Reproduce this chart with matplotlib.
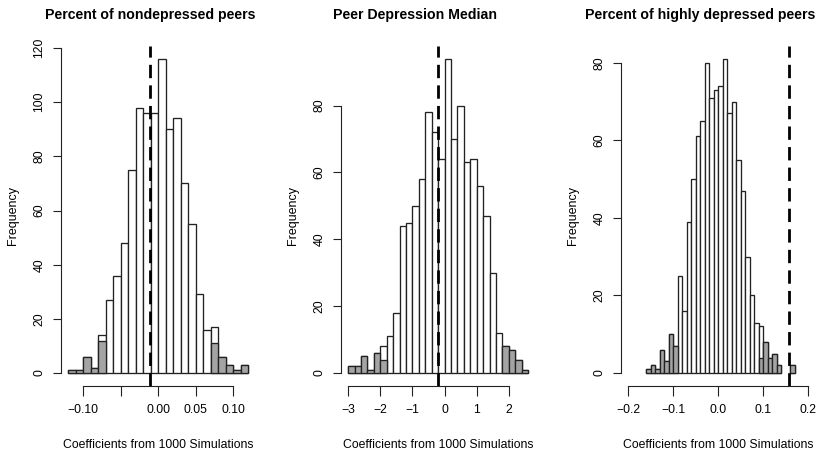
import matplotlib
matplotlib.use("Agg")
import matplotlib.pyplot as plt
from matplotlib import font_manager
import numpy as np


# DATA (histogram counts, 1000 simulations each)

TITLES = [
    "Percent of nondepressed peers",
    "Peer Depression Median",
    "Percent of highly depressed peers",
]
XLABEL = "Coefficients from 1000 Simulations"
YLABEL = "Frequency"

# percent of nondepressed peers: breaks -0.12 .. 0.12 by 0.01
nondep_start = -0.12
nondep_width = 0.01
nondep_counts = [1, 1, 6, 2, 14, 27, 36, 48, 75, 98, 96, 96,
                 116, 90, 94, 70, 55, 29, 16, 17, 6, 3, 1, 3]
nondep_tail = [1, 1, 6, 2, 12, 0, 0, 0, 0, 0, 0, 0,
               0, 0, 0, 0, 0, 0, 0, 11, 6, 3, 1, 3]
nondep_observed = -0.011
nondep_xticks = [-0.10, -0.05, 0.00, 0.05, 0.10]
nondep_xlabels = ["\u22120.10", "", "0.00", "0.05", "0.10"]
nondep_yticks = [0, 20, 40, 60, 80, 100, 120]
nondep_xrange = (-0.12, 0.12)

# peer depression median: breaks -3.0 .. 2.6 by 0.2
median_start = -3.0
median_width = 0.2
median_counts = [2, 2, 5, 1, 6, 8, 11, 18, 44, 45, 50, 58, 78, 72,
                 64, 94, 70, 80, 63, 64, 56, 47, 30, 12, 8, 7, 4, 1]
median_tail = [2, 2, 5, 1, 6, 4, 0, 0, 0, 0, 0, 0, 0, 0,
               0, 0, 0, 0, 0, 0, 0, 0, 0, 0, 8, 7, 4, 1]
median_observed = -0.21
median_xticks = [-3, -2, -1, 0, 1, 2]
median_xlabels = ["\u22123", "\u22122", "\u22121", "0", "1", "2"]
median_yticks = [0, 20, 40, 60, 80]
median_xrange = (-3.0, 2.6)

# percent of highly depressed peers: breaks -0.16 .. 0.17 by 0.01
highdep_start = -0.16
highdep_width = 0.01
highdep_counts = [1, 2, 1, 6, 3, 10, 7, 25, 16, 39, 50, 61, 65, 80, 71, 73, 74,
                  81, 67, 70, 55, 47, 30, 20, 13, 12, 8, 4, 5, 2, 0, 0, 2]
highdep_tail = [1, 2, 1, 6, 3, 10, 7, 0, 0, 0, 0, 0, 0, 0, 0, 0, 0,
                0, 0, 0, 0, 0, 0, 0, 0, 4, 8, 4, 5, 2, 0, 0, 2]
highdep_observed = 0.157
highdep_xticks = [-0.2, -0.1, 0.0, 0.1, 0.2]
highdep_xlabels = ["\u22120.2", "\u22120.1", "0.0", "0.1", "0.2"]
highdep_yticks = [0, 20, 40, 60, 80]
highdep_xrange = (-0.2, 0.2)


# STYLE

EDGE = "#222222"
TAIL_GRAY = "#a4a4a4"
TEXT_SIZE = 8.8


def pick_font(candidates):
    for name in candidates:
        try:
            font_manager.findfont(name, fallback_to_default=False)
            return name
        except ValueError:
            continue
    return "DejaVu Sans"


BASE_FONT = pick_font(["Liberation Sans", "Arial", "DejaVu Sans"])
NARROW_FONT = pick_font(["Liberation Sans Narrow", "Arial Narrow"])
HAS_NARROW = NARROW_FONT != "DejaVu Sans"

plt.rcParams["font.family"] = [BASE_FONT, "DejaVu Sans"]


def draw_panel(ax, start, width, counts, tail, observed, xticks, xlabels,
               yticks, xrange_):
    counts = np.array(counts)
    tail = np.array(tail)
    lefts = start + width * np.arange(len(counts))

    keep = counts > 0
    ax.bar(lefts[keep], counts[keep], width=width, align="edge",
           color="white", edgecolor=EDGE, linewidth=0.95)
    keep = tail > 0
    ax.bar(lefts[keep], tail[keep], width=width, align="edge",
           color=TAIL_GRAY, edgecolor=EDGE, linewidth=0.95)

    ax.axvline(observed, color="black", linewidth=2.0,
               linestyle=(0, (4.8, 2.6)))

    # R-style 4% padding around the data range
    lo, hi = xrange_
    pad = 0.04 * (hi - lo)
    ax.set_xlim(lo - pad, hi + pad)
    ymax = max(counts)
    ax.set_ylim(-0.04 * ymax, 1.04 * ymax)

    ax.set_xticks(xticks)
    ax.set_xticklabels(xlabels)
    ax.set_yticks(yticks)
    ax.set_yticklabels([str(v) for v in yticks], rotation=90, va="center")

    for side in ["top", "right"]:
        ax.spines[side].set_visible(False)
    ax.spines["left"].set_bounds(yticks[0], yticks[-1])
    ax.spines["bottom"].set_bounds(xticks[0], xticks[-1])
    for side in ["left", "bottom"]:
        ax.spines[side].set_linewidth(0.8)
        ax.spines[side].set_color(EDGE)

    ax.tick_params(axis="x", direction="out", length=7, width=0.8,
                   pad=6.5, labelsize=TEXT_SIZE, colors=EDGE)
    ax.tick_params(axis="y", direction="out", length=6, width=0.8,
                   pad=5, labelsize=TEXT_SIZE, colors=EDGE)
    for lab in ax.get_xticklabels() + ax.get_yticklabels():
        lab.set_color("black")

    ax.set_xlabel(XLABEL, fontsize=TEXT_SIZE)
    ax.xaxis.set_label_coords(0.5, -0.158)
    ax.set_ylabel(YLABEL, fontsize=TEXT_SIZE + 0.2)
    ax.yaxis.set_label_coords(-0.215, 0.5)


def main():
    fig = plt.figure(figsize=(8.38, 4.53), dpi=100)

    bottom, height, width = 0.1488, 0.749, 0.232
    lefts = [0.0726, 0.4069, 0.741]
    axes = [fig.add_axes([left, bottom, width, height]) for left in lefts]

    draw_panel(axes[0], nondep_start, nondep_width, nondep_counts, nondep_tail,
               nondep_observed, nondep_xticks, nondep_xlabels, nondep_yticks,
               nondep_xrange)
    draw_panel(axes[1], median_start, median_width, median_counts, median_tail,
               median_observed, median_xticks, median_xlabels, median_yticks,
               median_xrange)
    draw_panel(axes[2], highdep_start, highdep_width, highdep_counts,
               highdep_tail, highdep_observed, highdep_xticks, highdep_xlabels,
               highdep_yticks, highdep_xrange)

    # titles sit a little left of the panel centres in the reference
    title_x = [150 / 838, 415 / 838, 700 / 838]
    if HAS_NARROW:
        title_font, title_size = [NARROW_FONT, "DejaVu Sans"], 12.4
    else:
        title_font, title_size = [BASE_FONT, "DejaVu Sans"], 10.2
    for x, title in zip(title_x, TITLES):
        fig.text(x, 1 - 15 / 453, title, ha="center", va="center",
                 fontsize=title_size, fontweight="bold", family=title_font)

    fig.savefig("out.png", dpi=100)
    plt.close(fig)


if __name__ == "__main__":
    main()
